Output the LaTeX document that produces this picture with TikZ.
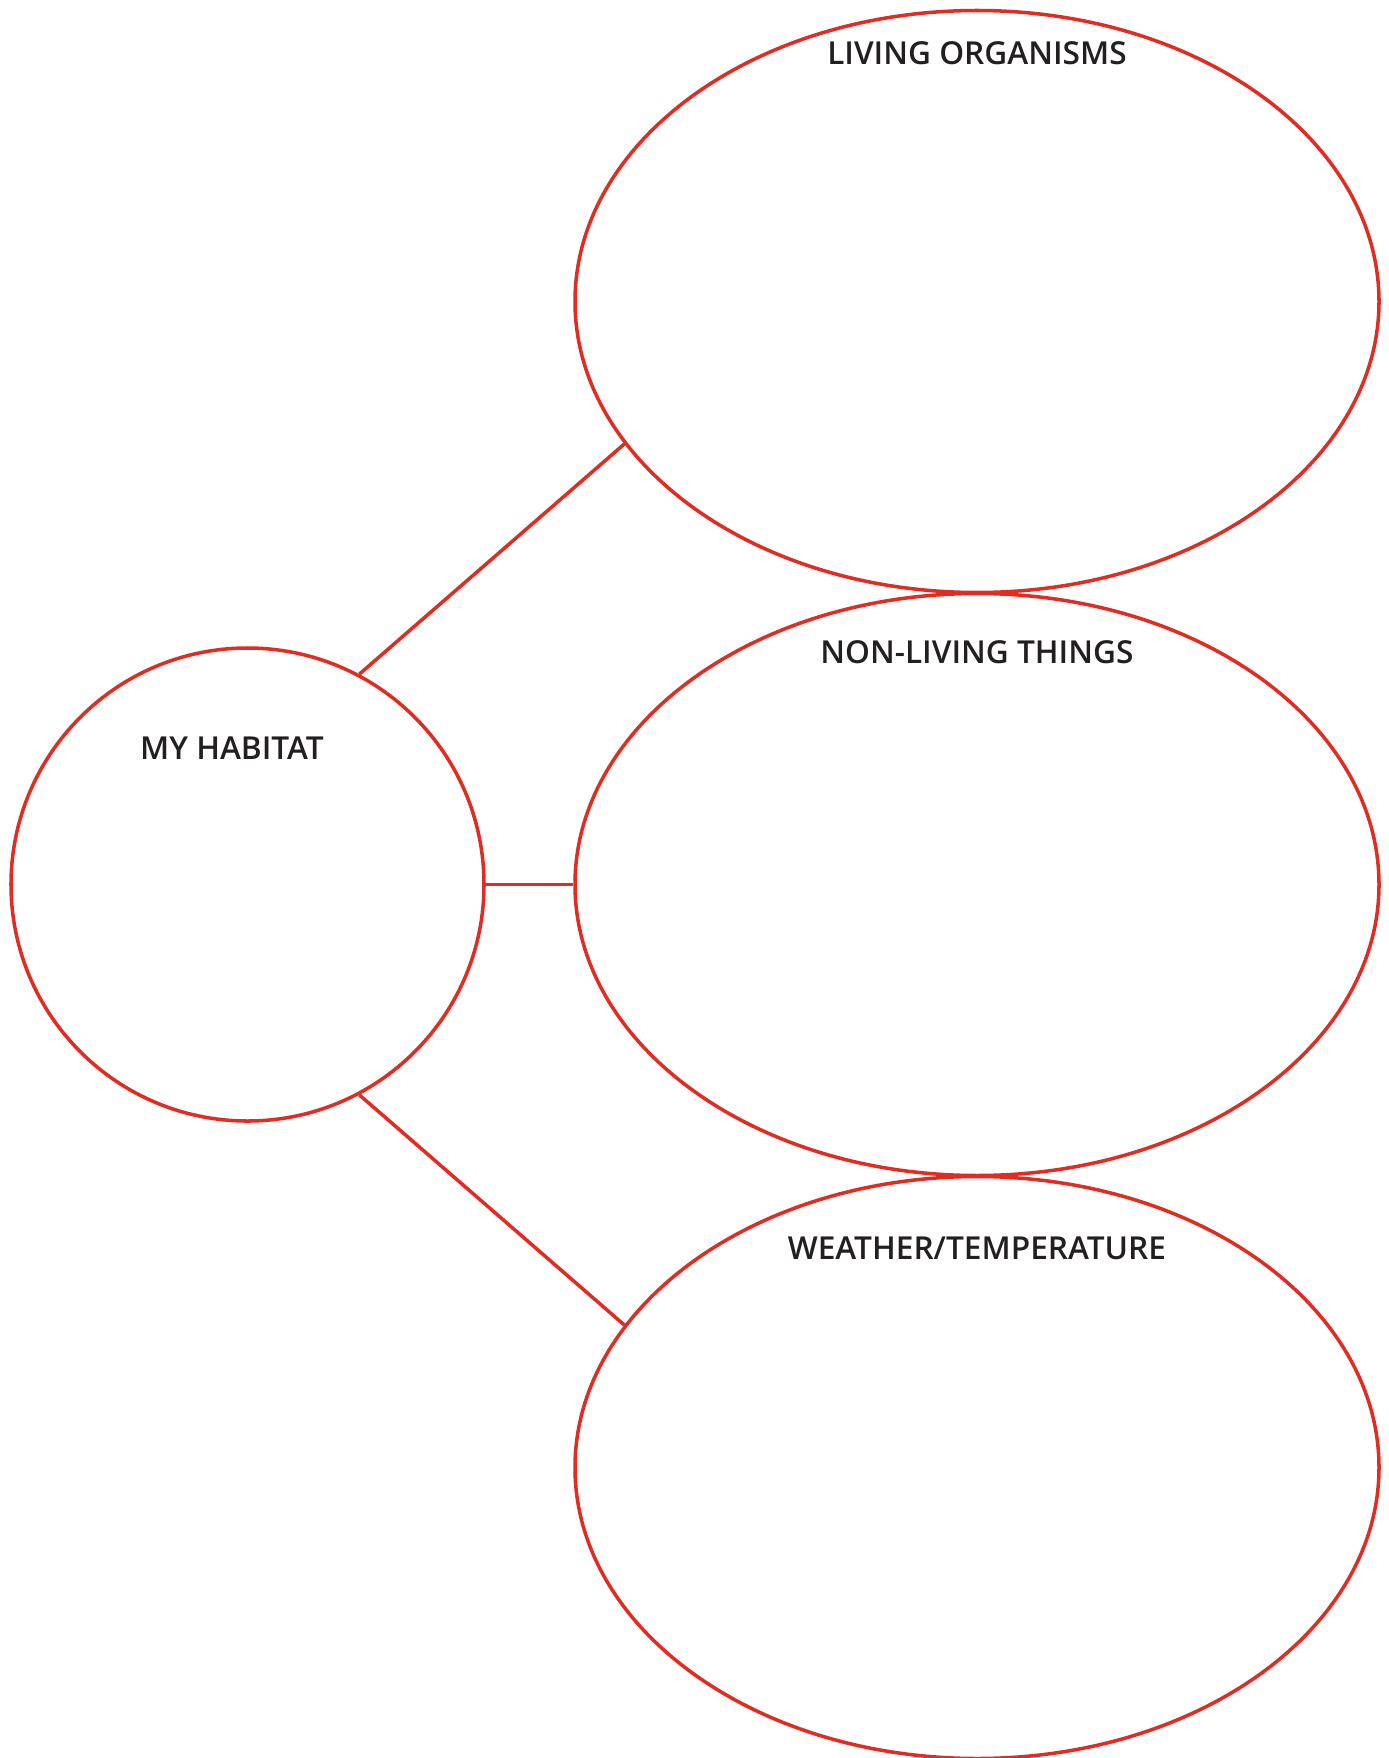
\documentclass[tikz,border=0pt]{standalone}
\usepackage{fontspec}
\setmainfont{Open Sans Semibold}
\usetikzlibrary{shapes.geometric}
\definecolor{webred}{RGB}{224,45,35}
\definecolor{inkgray}{RGB}{35,31,32}
\tikzset{
  bubble/.style={draw=webred, line width=2pt, ellipse, inner sep=0pt,
                 minimum width=16.08cm, minimum height=11.64cm},
  hub/.style={draw=webred, line width=2pt, circle, inner sep=0pt, minimum size=9.46cm},
  tag/.style={text=inkgray, font=\fontsize{18}{21}\selectfont},
  link/.style={draw=webred, line width=2pt}
}
\begin{document}
\begin{tikzpicture}
    \useasboundingbox (0,0) rectangle (27.76,-35.16);
    % the three ellipses on the right
    \node[bubble] (living) at (19.54,-6.03) {};
    \node[bubble] (nonliving) at (19.54,-17.69) {};
    \node[bubble] (weather) at (19.54,-29.35) {};
    % the circle on the left
    \node[hub] (habitat) at (4.95,-17.69) {};
    % labels
    \node[tag] (livingtxt) at (19.54,-1.06) {LIVING ORGANISMS};
    \node[tag] (nonlivingtxt) at (19.54,-13.05) {NON-LIVING THINGS};
    \node[tag] (weathertxt) at (19.54,-24.96) {WEATHER/TEMPERATURE};
    \node[tag] (habitattxt) at (4.64,-14.96) {MY HABITAT};
    % links
    \draw[link] (habitat.62.7) -- (living.202.4);
    \draw[link] (habitat.east) -- (nonliving.west);
    \draw[link] (habitat.-62.4) -- (weather.158);
\end{tikzpicture}
\end{document}
